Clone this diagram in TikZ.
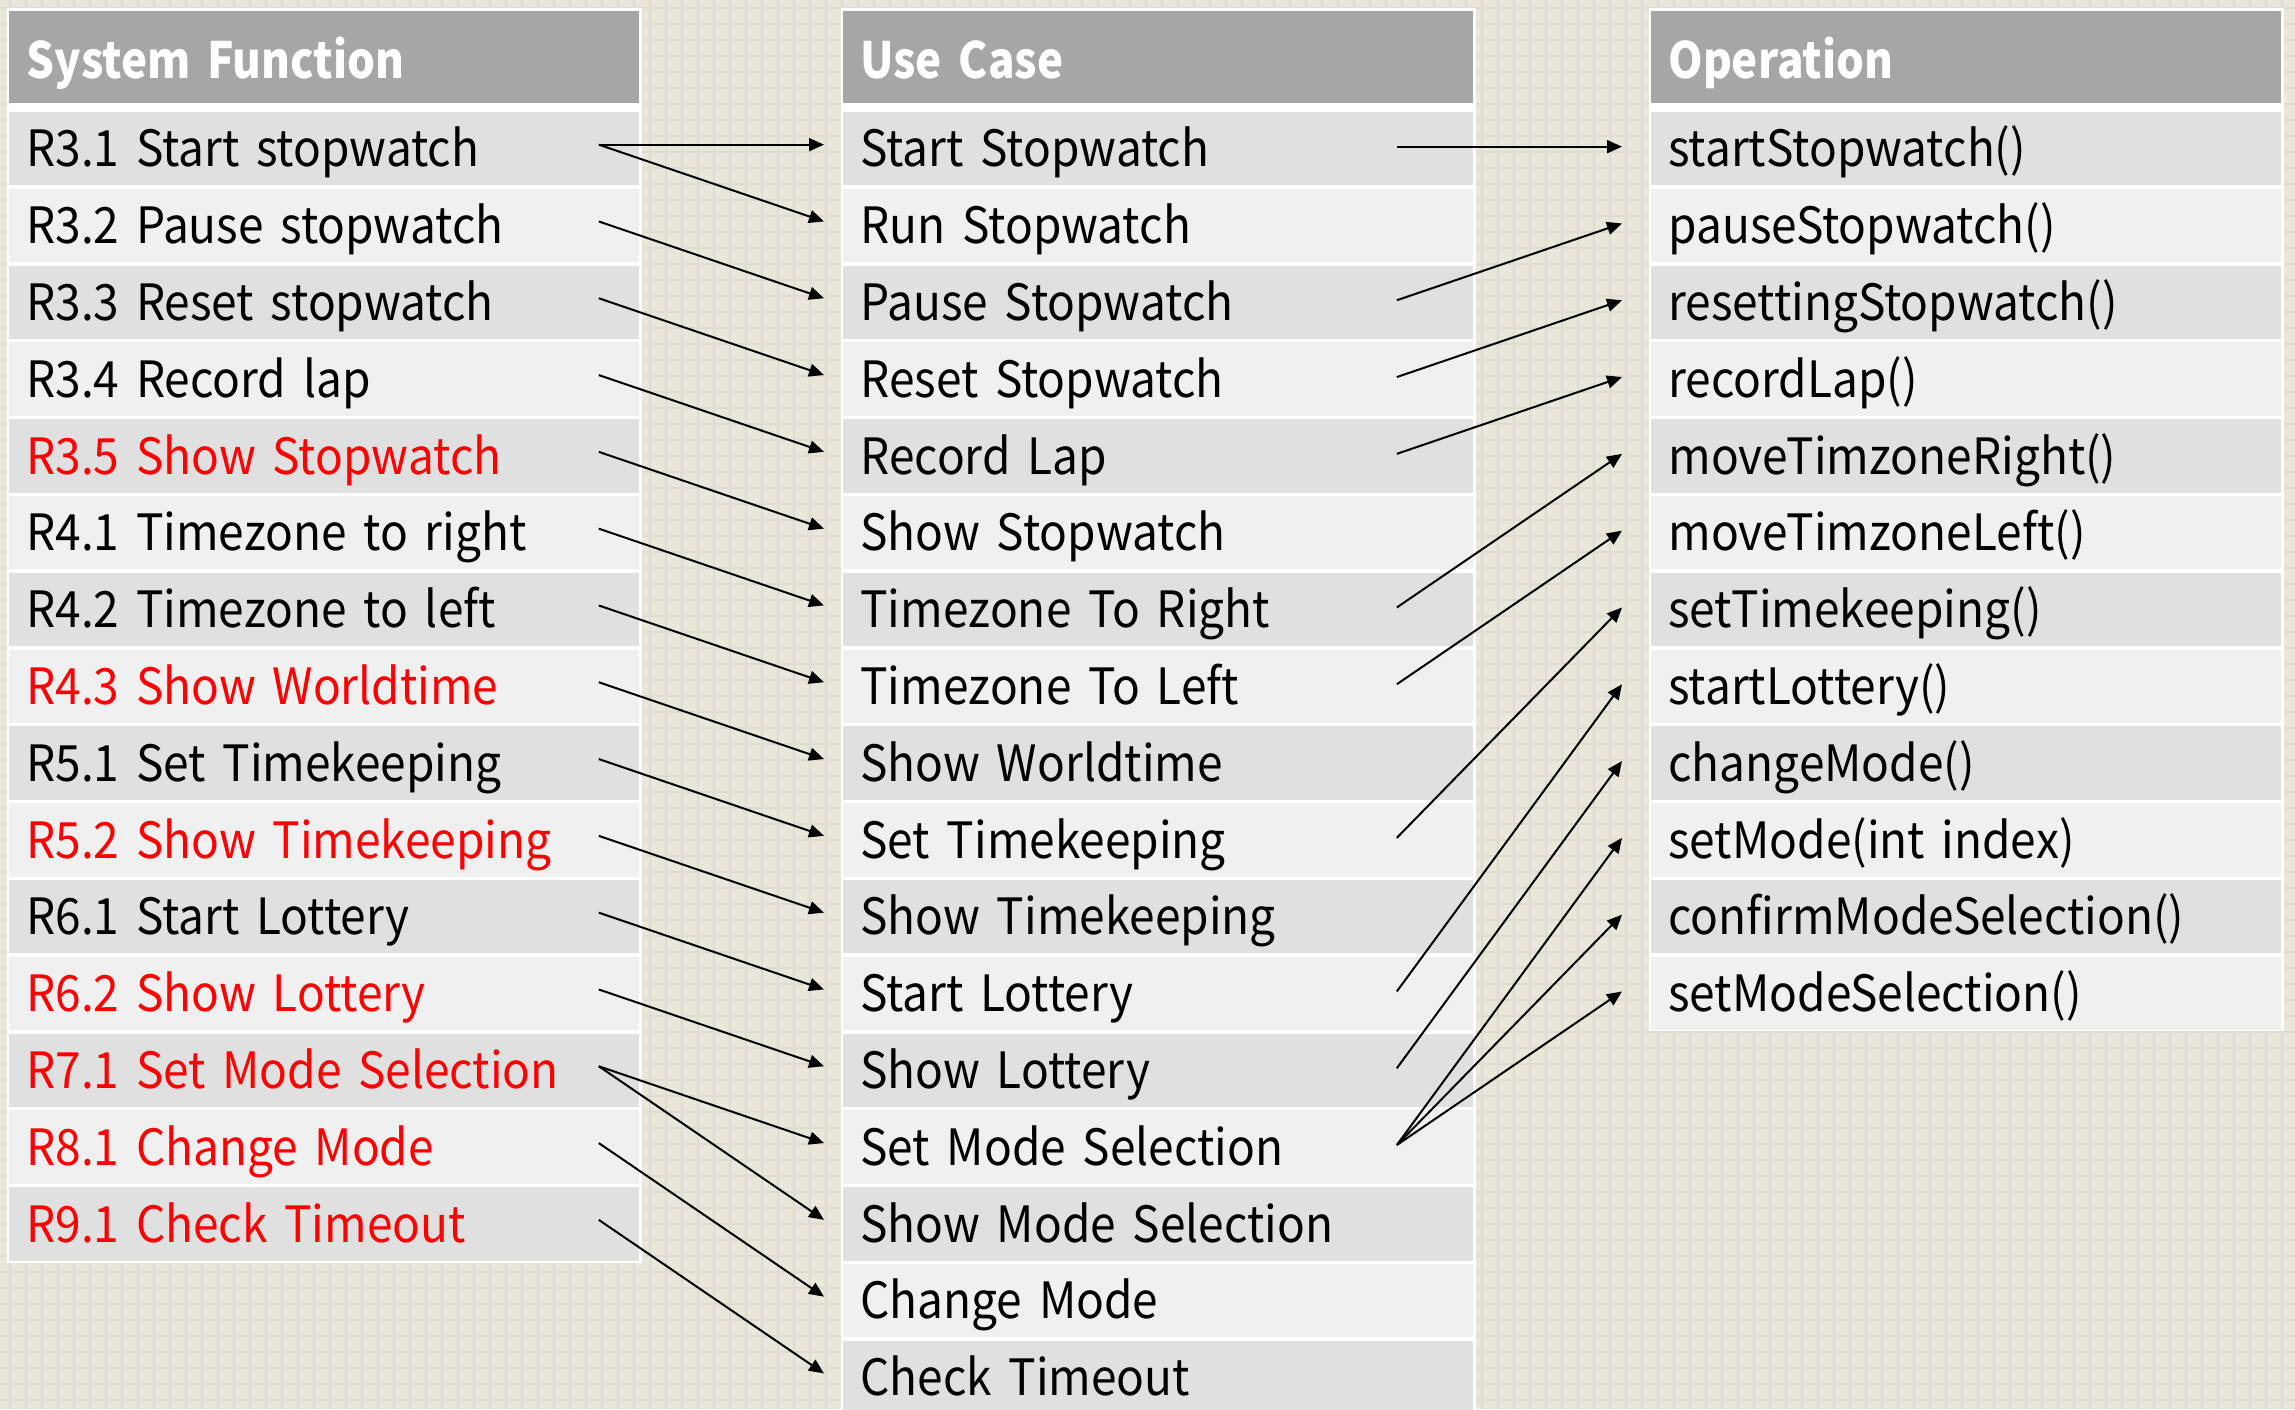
\documentclass[tikz,border=0pt]{standalone}
\usepackage{fontspec}
\setmainfont{Noto Sans CJK KR}[FakeStretch=0.92, BoldFeatures={FakeStretch=0.88}]
\usetikzlibrary{arrows.meta,calc}
\definecolor{bgbeige}{HTML}{E9E6DA}
\definecolor{gridline}{HTML}{DEDBD0}
\definecolor{hdrgray}{HTML}{A6A6A6}
\definecolor{rowdark}{HTML}{E0E0E0}
\definecolor{rowlight}{HTML}{F0F0F0}
\definecolor{reqred}{HTML}{FF0000}
\tikzset{
  cell/.style={anchor=north west, inner xsep=8.5pt, inner ysep=0pt,
    minimum height=36.75pt, text width=298pt, align=left,
    font=\fontsize{25}{25}\selectfont, text height=18.3pt, text depth=0pt},
  hdr/.style={cell, fill=hdrgray, text=white, minimum height=46pt,
    font=\fontsize{25}{25}\selectfont\bfseries, text height=20.8pt},
  conn/.style={line width=1pt, -{Triangle[length=7.5pt,width=6.5pt]}},
  tablebg/.style={fill=white}
}
\begin{document}
\begin{tikzpicture}[x=0.5pt,y=-0.5pt]
\useasboundingbox (0,0) rectangle (2295,1409);
% background with grid
\fill[bgbeige] (0,0) rectangle (2295,1409);
\foreach \gx in {10,26,...,2295} \draw[gridline,line width=1.3pt] (\gx,0) -- (\gx,1409);
\foreach \gy in {8,24,...,1409} \draw[gridline,line width=1.3pt] (0,\gy) -- (2295,\gy);
% table backgrounds
\fill[tablebg] (7,8) rectangle (641.5,1263);
\fill[tablebg] (841,8) rectangle (1475.5,1420);
\fill[tablebg] (1649,8) rectangle (2283.5,1031);
% headers
\node[hdr] (HL) at (9,11) {System Function};
\node[hdr] (HM) at (843,11) {Use Case};
\node[hdr] (HR) at (1651,11) {Operation};
% left column
\foreach \i/\bg/\tc/\txt in {
  0/rowdark/black/R3.1 Start stopwatch,
  1/rowlight/black/R3.2 Pause stopwatch,
  2/rowdark/black/R3.3 Reset stopwatch,
  3/rowlight/black/R3.4 Record lap,
  4/rowdark/reqred/R3.5 Show Stopwatch,
  5/rowlight/black/R4.1 Timezone to right,
  6/rowdark/black/R4.2 Timezone to left,
  7/rowlight/reqred/R4.3 Show Worldtime,
  8/rowdark/black/R5.1 Set Timekeeping,
  9/rowlight/reqred/R5.2 Show Timekeeping,
  10/rowdark/black/R6.1 Start Lottery,
  11/rowlight/reqred/R6.2 Show Lottery,
  12/rowdark/reqred/R7.1 Set Mode Selection,
  13/rowlight/reqred/R8.1 Change Mode,
  14/rowdark/reqred/R9.1 Check Timeout}
  \node[cell, fill=\bg, text=\tc] (L\i) at (9,{111.5+76.8*\i}) {\txt};
% middle column
\foreach \i/\bg/\txt in {
  0/rowdark/Start Stopwatch,
  1/rowlight/Run Stopwatch,
  2/rowdark/Pause Stopwatch,
  3/rowlight/Reset Stopwatch,
  4/rowdark/Record Lap,
  5/rowlight/Show Stopwatch,
  6/rowdark/Timezone To Right,
  7/rowlight/Timezone To Left,
  8/rowdark/Show Worldtime,
  9/rowlight/Set Timekeeping,
  10/rowdark/Show Timekeeping,
  11/rowlight/Start Lottery,
  12/rowdark/Show Lottery,
  13/rowlight/Set Mode Selection,
  14/rowdark/Show Mode Selection,
  15/rowlight/Change Mode,
  16/rowdark/Check Timeout}
  \node[cell, fill=\bg] (M\i) at (843,{111.5+76.8*\i}) {\txt};
% right column
\foreach \i/\bg/\txt in {
  0/rowdark/startStopwatch(),
  1/rowlight/pauseStopwatch(),
  2/rowdark/resettingStopwatch(),
  3/rowlight/recordLap(),
  4/rowdark/moveTimzoneRight(),
  5/rowlight/moveTimzoneLeft(),
  6/rowdark/setTimekeeping(),
  7/rowlight/startLottery(),
  8/rowdark/changeMode(),
  9/rowlight/setMode(int index),
  10/rowdark/confirmModeSelection(),
  11/rowlight/setModeSelection()}
  \node[cell, fill=\bg] (R\i) at (1651,{111.5+76.8*\i}) {\txt};
% connectors: system function -> use case
\foreach \a/\b in {0/0,0/1,1/2,2/3,3/4,4/5,5/6,6/7,7/8,8/9,9/10,10/11,11/12,12/13,12/14,13/15,14/16}
  \draw[conn] ($(L\a.east)+(-41,-4)$) -- ($(M\b.west)+(-19,-4)$);
% connectors: use case -> operation
\foreach \a/\b in {0/0,2/1,3/2,4/3,6/4,7/5,9/6,11/7,12/8,13/9,13/10,13/11}
  \draw[conn] ($(M\a.east)+(-77,-2)$) -- ($(R\b.west)+(-29,-2)$);
\end{tikzpicture}
\end{document}
